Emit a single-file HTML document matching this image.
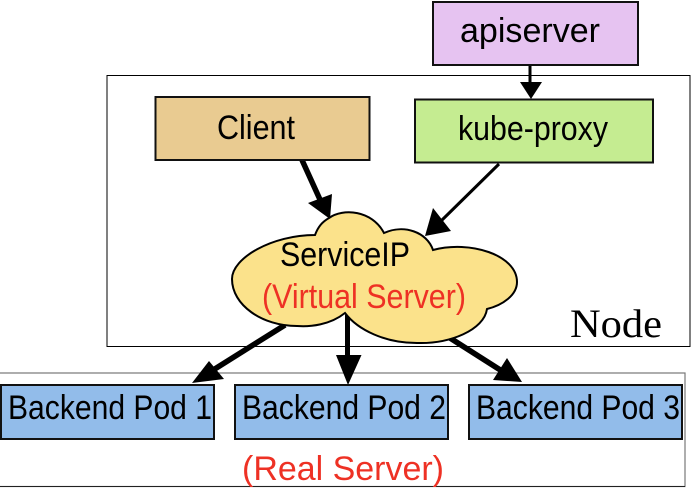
<!DOCTYPE html>
<html>
<head>
<meta charset="utf-8">
<style>
html,body{margin:0;padding:0;background:#fff;}
svg{display:block;}
text{font-family:"Liberation Sans",sans-serif;}
</style>
</head>
<body>
<svg width="692" height="488" viewBox="0 0 692 488" xmlns="http://www.w3.org/2000/svg">
  <!-- Containers -->
  <rect x="107" y="75.5" width="583" height="271" fill="#fff" stroke="#000" stroke-width="1"/>
  <rect x="-2" y="373" width="687" height="113.5" fill="none" stroke="#777" stroke-width="1.2"/>
  <line x1="0" y1="486.5" x2="685" y2="486.5" stroke="#222" stroke-width="1"/>

  <!-- Connectors behind cloud -->
  <line x1="530" y1="65" x2="530" y2="84" stroke="#000" stroke-width="3"/>
  <polygon points="520,82 542,82 531,99" fill="#000"/>
  <line x1="302" y1="160" x2="322" y2="204" stroke="#000" stroke-width="5.5"/>
  <polygon points="308,203 332,194 330,219" fill="#000"/>
  <line x1="499" y1="164" x2="440" y2="222" stroke="#000" stroke-width="3"/>
  <polygon points="433,208 451,231 425,236" fill="#000"/>
  <line x1="285" y1="325" x2="210" y2="372" stroke="#000" stroke-width="5.5"/>
  <polygon points="209,361 224,379 192,383" fill="#000"/>
  <line x1="347.500" y1="315" x2="347.500" y2="362" stroke="#000" stroke-width="5"/>
  <polygon points="336,355 361.500,355 348,385" fill="#000"/>
  <line x1="450" y1="338" x2="505" y2="373" stroke="#000" stroke-width="5.500"/>
  <polygon points="507,358 522,382 493,380" fill="#000"/>

  <!-- Boxes -->
  <rect x="433" y="2" width="205" height="63" fill="#e6c3f1" stroke="#111" stroke-width="2"/>
  <rect x="155.500" y="97" width="214" height="63" fill="#e9cb91" stroke="#111" stroke-width="2"/>
  <rect x="415" y="99.500" width="238" height="63" fill="#c5ec91" stroke="#111" stroke-width="2"/>
  <rect x="1" y="385" width="213" height="54" fill="#92bcea" stroke="#111" stroke-width="2"/>
  <rect x="235" y="385" width="213" height="54" fill="#92bcea" stroke="#111" stroke-width="2"/>
  <rect x="469" y="385" width="213" height="54" fill="#92bcea" stroke="#111" stroke-width="2"/>

  <!-- Cloud -->
  <path d="M329 218 C 343 208 372 210 384 233 C 404 224 427 232 433 250 C 470 240 517 255 517 282 C 517 295 503 305 487 309 C 484 330 450 344 417 343 C 385 343 358 330 345 313 C 330 325 310 327 297 326 C 262 326 232 305 232 279 C 232 258 272 235 315 235 C 318 227 322 222 329 218 Z" fill="#fbe28b" stroke="#000" stroke-width="2"/>

  <!-- Labels -->
  <text x="460" y="42" font-size="34" fill="#000" textLength="140" lengthAdjust="spacingAndGlyphs">apiserver</text>
  <text x="217" y="139" font-size="34" fill="#000" textLength="78" lengthAdjust="spacingAndGlyphs">Client</text>
  <text x="458" y="140" font-size="34" fill="#000" textLength="150" lengthAdjust="spacingAndGlyphs">kube-proxy</text>
  <text x="280" y="266" font-size="34" fill="#000" textLength="130" lengthAdjust="spacingAndGlyphs">ServiceIP</text>
  <text x="262" y="308" font-size="34" fill="#ee3124" textLength="204" lengthAdjust="spacingAndGlyphs">(Virtual Server)</text>
  <text x="570" y="337" font-size="40" fill="#000" textLength="92" lengthAdjust="spacingAndGlyphs" style="font-family:'Liberation Serif',serif">Node</text>
  <text x="8" y="419" font-size="34" fill="#000" textLength="204" lengthAdjust="spacingAndGlyphs">Backend Pod 1</text>
  <text x="242" y="419" font-size="34" fill="#000" textLength="204" lengthAdjust="spacingAndGlyphs">Backend Pod 2</text>
  <text x="476" y="419" font-size="34" fill="#000" textLength="204" lengthAdjust="spacingAndGlyphs">Backend Pod 3</text>
  <text x="242" y="480" font-size="34" fill="#ee3124" textLength="202" lengthAdjust="spacingAndGlyphs">(Real Server)</text>
</svg>
</body>
</html>
